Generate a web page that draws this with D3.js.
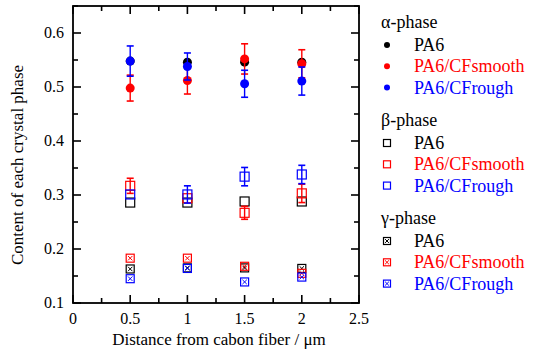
<!DOCTYPE html>
<html>
<head>
<meta charset="utf-8">
<script src="https://cdn.jsdelivr.net/npm/d3@7"></script>
<style>
  body { margin: 0; background: #fff; }
</style>
</head>
<body>
<svg id="chart" width="538" height="354"></svg>
<script>
// distances from fibre (µm)
const distances = [0.5, 1, 1.5, 2];

// alpha phase: value, error
const alphaPA6 = [0.548, 0.546, 0.546, 0.546];
const alphaPA6Err = [0, 0, 0, 0];
const alphaSmooth = [0.498, 0.512, 0.552, 0.543];
const alphaSmoothErr = [0.024, 0.025, 0.028, 0.026];
const alphaRough = [0.548, 0.538, 0.506, 0.511];
const alphaRoughErr = [0.028, 0.025, 0.025, 0.026];

// beta phase
const betaPA6 = [0.286, 0.286, 0.288, 0.288];
const betaPA6Err = [0, 0, 0, 0];
const betaSmooth = [0.317, 0.294, 0.267, 0.303];
const betaSmoothErr = [0.014, 0, 0.012, 0.017];
const betaRough = [0.301, 0.301, 0.334, 0.338];
const betaRoughErr = [0, 0.016, 0.017, 0.017];

// gamma phase
const gammaPA6 = [0.163, 0.165, 0.165, 0.164];
const gammaSmooth = [0.183, 0.183, 0.168, 0.155];
const gammaRough = [0.145, 0.164, 0.139, 0.148];

const xTicks = [0, 0.5, 1, 1.5, 2, 2.5];
const yTicks = [0.1, 0.2, 0.3, 0.4, 0.5, 0.6];

const colors = { PA6: '#000000', smooth: '#ff0000', rough: '#0000ff' };
const FONT = 'Liberation Serif';

const svg = d3.select('#chart');
const plotL = 73, plotR = 359, plotT = 6, plotB = 303;

const x = d3.scaleLinear().domain([0, 2.5]).range([plotL, plotR]);
const y = d3.scaleLinear().domain([0.1, 0.65]).range([plotB, plotT]);

// frame
svg.append('rect')
  .attr('x', plotL).attr('y', plotT)
  .attr('width', plotR - plotL).attr('height', plotB - plotT)
  .attr('fill', 'none').attr('stroke', '#000').attr('stroke-width', 1.8);

const axisG = svg.append('g').attr('stroke', '#000').attr('stroke-width', 1.6);
d3.range(0, 2.51, 0.25).forEach(function(v) {
  const major = Math.abs(v * 2 - Math.round(v * 2)) < 1e-6;
  const len = major ? 8 : 5;
  axisG.append('line').attr('x1', x(v)).attr('x2', x(v)).attr('y1', plotB).attr('y2', plotB - len);
  axisG.append('line').attr('x1', x(v)).attr('x2', x(v)).attr('y1', plotT).attr('y2', plotT + len);
});
d3.range(0.1, 0.651, 0.05).forEach(function(v) {
  const major = Math.abs(v * 10 - Math.round(v * 10)) < 1e-6;
  const len = major ? 8 : 5;
  axisG.append('line').attr('x1', plotL).attr('x2', plotL + len).attr('y1', y(v)).attr('y2', y(v));
  axisG.append('line').attr('x1', plotR).attr('x2', plotR - len).attr('y1', y(v)).attr('y2', y(v));
});

svg.selectAll('.xl').data(xTicks).enter().append('text')
  .attr('font-family', FONT)
  .attr('x', function(d) { return x(d); })
  .attr('y', plotB + 21)
  .attr('text-anchor', 'middle')
  .attr('font-size', 16)
  .text(function(d) { return d; });

svg.selectAll('.yl').data(yTicks).enter().append('text')
  .attr('font-family', FONT)
  .attr('x', plotL - 9)
  .attr('y', function(d) { return y(d) + 5; })
  .attr('text-anchor', 'end')
  .attr('font-size', 16)
  .text(function(d) { return d.toFixed(1); });

svg.append('text')
  .attr('font-family', FONT)
  .attr('x', 219).attr('y', 345)
  .attr('text-anchor', 'middle').attr('font-size', 17)
  .text('Distance from cabon fiber / μm');

svg.append('text')
  .attr('font-family', FONT)
  .attr('transform', 'translate(23,165) rotate(-90)')
  .attr('text-anchor', 'middle').attr('font-size', 17)
  .text('Content of each crystal phase');

// marker helpers
function drawMarker(g, kind, cx, cy, size, color) {
  if (kind === 'circle') {
    g.append('circle').attr('cx', cx).attr('cy', cy).attr('r', size / 2).attr('fill', color);
  } else {
    const h = size / 2;
    g.append('rect').attr('x', cx - h).attr('y', cy - h).attr('width', size).attr('height', size)
      .attr('fill', 'none').attr('stroke', color).attr('stroke-width', 1.2);
    if (kind === 'cross') {
      const k = h * 0.55;
      g.append('path')
        .attr('d', 'M' + (cx - k) + ',' + (cy - k) + 'L' + (cx + k) + ',' + (cy + k) +
                   'M' + (cx + k) + ',' + (cy - k) + 'L' + (cx - k) + ',' + (cy + k))
        .attr('stroke', color).attr('stroke-width', 1);
    }
  }
}

function drawSeries(values, errs, kind, color) {
  const g = svg.append('g');
  values.forEach(function(v, i) {
    const cx = x(distances[i]);
    const e = errs ? errs[i] : 0;
    if (e > 0) {
      g.append('line').attr('x1', cx).attr('x2', cx).attr('y1', y(v - e)).attr('y2', y(v + e))
        .attr('stroke', color).attr('stroke-width', 1.4);
      [v - e, v + e].forEach(function(t) {
        g.append('line').attr('x1', cx - 3.5).attr('x2', cx + 3.5).attr('y1', y(t)).attr('y2', y(t))
          .attr('stroke', color).attr('stroke-width', 1.6);
      });
    }
    drawMarker(g, kind, cx, y(v), kind === 'circle' ? 9 : (kind === 'cross' ? 8 : 9), color);
  });
}

drawSeries(betaPA6, betaPA6Err, 'square', colors.PA6);
drawSeries(betaSmooth, betaSmoothErr, 'square', colors.smooth);
drawSeries(betaRough, betaRoughErr, 'square', colors.rough);
drawSeries(gammaPA6, null, 'cross', colors.PA6);
drawSeries(gammaSmooth, null, 'cross', colors.smooth);
drawSeries(gammaRough, null, 'cross', colors.rough);
drawSeries(alphaPA6, alphaPA6Err, 'circle', colors.PA6);
drawSeries(alphaSmooth, alphaSmoothErr, 'circle', colors.smooth);
drawSeries(alphaRough, alphaRoughErr, 'circle', colors.rough);

// legend
const legendGroups = [
  { title: 'α-phase', kind: 'circle', y: 22 },
  { title: 'β-phase', kind: 'square', y: 120 },
  { title: 'γ-phase', kind: 'cross', y: 218 }
];
const legendItems = [
  { label: 'PA6', color: colors.PA6 },
  { label: 'PA6/CFsmooth', color: colors.smooth },
  { label: 'PA6/CFrough', color: colors.rough }
];
const lg = svg.append('g');
legendGroups.forEach(function(grp) {
  lg.append('text').attr('font-family', FONT)
    .attr('x', 381).attr('y', grp.y + 6).attr('font-size', 18).text(grp.title);
  legendItems.forEach(function(it, j) {
    const cy = grp.y + 23 + j * 21.3;
    drawMarker(lg, grp.kind, 387, cy, grp.kind === 'circle' ? 6 : 7, it.color);
    lg.append('text').attr('font-family', FONT)
      .attr('x', 414).attr('y', cy + 6).attr('font-size', 18)
      .attr('fill', it.color).text(it.label);
  });
});
</script>
</body>
</html>
